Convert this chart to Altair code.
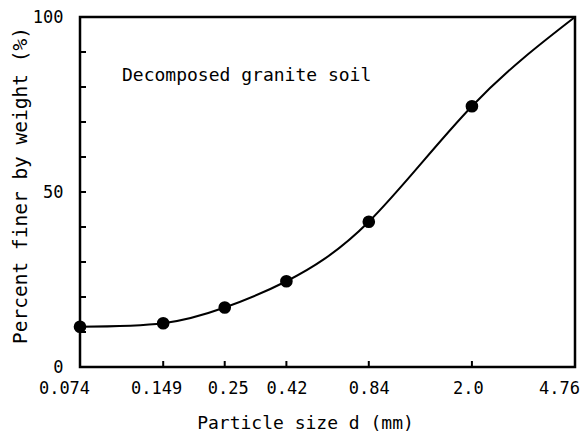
import altair as alt
import pandas as pd

# Data
sizes = [0.074, 0.149, 0.25, 0.42, 0.84, 2.0]
finer = [11.5, 12.5, 17.0, 24.5, 41.5, 74.5]
curve_sizes = [0.074, 0.149, 0.25, 0.42, 0.84, 2.0, 4.76]
curve_finer = [11.5, 12.5, 17.0, 24.5, 41.5, 74.5, 100.0]
x_tick_values = [0.074, 0.149, 0.25, 0.42, 0.84, 2.0, 4.76]
x_tick_labels = ["0.074", "0.149", "0.25", "0.42", "0.84", "2.0", "4.76"]
x_minor_ticks = [0.149, 0.25, 0.42, 0.84, 2.0]
y_label_values = [0, 50, 100]
y_minor_ticks = [10, 20, 30, 40, 50, 60, 70, 80, 90]
annotation = "Decomposed granite soil"

FONT = "DejaVu Sans Mono"
W, H = 495, 350

pts = pd.DataFrame({"d": sizes, "p": finer})
crv = pd.DataFrame({"d": curve_sizes, "p": curve_finer})
xt = pd.DataFrame({"d": x_minor_ticks})
yt = pd.DataFrame({"p": y_minor_ticks})

label_expr = " : ".join(
    f"datum.value == {v} ? '{l}'" for v, l in zip(x_tick_values, x_tick_labels)
) + " : ''"

xscale = alt.Scale(type="log", domain=[0.074, 4.76], nice=False)
yscale = alt.Scale(domain=[0, 100], nice=False)

xaxis = alt.Axis(
    values=x_tick_values, labelExpr=label_expr, ticks=False, domain=False,
    grid=False, labelFont=FONT, labelFontSize=17, labelColor="black",
    labelPadding=13, labelFlush=False,
    labelOffset={"condition": [
        {"test": "datum.value < 0.08", "value": -16},
        {"test": "datum.value > 4", "value": -16},
        {"test": "datum.value > 0.1 && datum.value < 0.2", "value": -7},
        {"test": "datum.value > 0.2 && datum.value < 0.3", "value": 3},
        {"test": "datum.value > 1.5 && datum.value < 3", "value": -4},
    ], "value": 0},
    title="Particle size d (mm)",
    titleFont=FONT, titleFontSize=18, titleFontWeight="normal",
    titleColor="black", titleX=225, titleY=56, titleBaseline="middle",
)
yaxis = alt.Axis(
    values=y_label_values, ticks=False, domain=False, grid=False,
    labelFont=FONT, labelFontSize=17, labelColor="black", labelPadding=17,
    title="Percent finer by weight (%)", titleFont=FONT, titleFontSize=19.5,
    titleFontWeight="normal", titleColor="black", titleX=-60, titleY=168,
    titleBaseline="middle", titleAlign="center",
)

line = alt.Chart(crv).mark_line(
    color="black", strokeWidth=2, interpolate="natural"
).encode(
    x=alt.X("d:Q", scale=xscale, axis=xaxis),
    y=alt.Y("p:Q", scale=yscale, axis=yaxis),
)

points = alt.Chart(pts).mark_circle(
    color="black", size=160, opacity=1
).encode(
    x=alt.X("d:Q", scale=xscale),
    y=alt.Y("p:Q", scale=yscale),
)

xticks = alt.Chart(xt).mark_rule(color="black", strokeWidth=2).encode(
    x=alt.X("d:Q", scale=xscale),
    y=alt.value(H),
    y2=alt.value(H - 6),
)

yticks = alt.Chart(yt).mark_rule(color="black", strokeWidth=2).encode(
    y=alt.Y("p:Q", scale=yscale),
    x=alt.value(0),
    x2=alt.value(6),
)

label = alt.Chart(pd.DataFrame({"t": [annotation]})).mark_text(
    font=FONT, fontSize=18, align="left", baseline="middle", color="black"
).encode(
    text="t:N",
    x=alt.value(42),
    y=alt.value(59),
)

chart = alt.layer(line, xticks, yticks, points, label).properties(
    width=W, height=H,
    background="white",
    autosize=alt.AutoSizeParams(type="none"),
    padding={"left": 80, "top": 17, "right": 9, "bottom": 73},
).configure_view(
    stroke="black", strokeWidth=2.5
)

chart.save("out.html", embed_options={"renderer": "svg", "actions": False})
